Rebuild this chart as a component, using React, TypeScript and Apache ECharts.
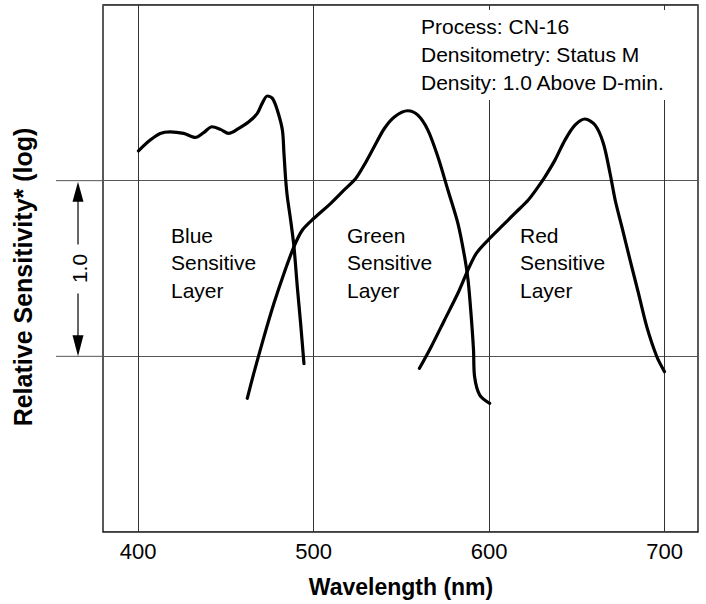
import React, { useEffect, useRef } from "react";
import * as echarts from "echarts";

const X_TICKS = [400, 500, 600, 700];
const Y_GRID = [1, 2];

const BLUE: [number, number][] = [
  [400.2, 2.17], [406.9, 2.231], [412.6, 2.269], [418.3, 2.278], [425.9, 2.269],
  [432.6, 2.246], [437.3, 2.273], [442.1, 2.307], [446.9, 2.292], [451.6, 2.269],
  [457.4, 2.298], [463.1, 2.335], [467.9, 2.383], [470.7, 2.44], [473.6, 2.482],
  [476.5, 2.469], [479.3, 2.402], [482.2, 2.288], [483.1, 2.155], [484.1, 2.004],
  [485.0, 1.909], [486.9, 1.776], [488.8, 1.624], [490.7, 1.396], [492.6, 1.187],
  [494.5, 0.959],
];

const GREEN: [number, number][] = [
  [462.2, 0.761], [465.9, 0.903], [471.7, 1.111], [477.4, 1.302], [483.1, 1.472],
  [488.8, 1.624], [493.6, 1.719], [500.2, 1.786], [509.8, 1.871], [517.4, 1.947],
  [524.1, 2.014], [528.8, 2.089], [534.5, 2.193], [540.3, 2.297], [546.0, 2.363],
  [553.6, 2.398], [559.4, 2.373], [565.1, 2.288], [570.8, 2.136], [576.5, 1.947],
  [582.2, 1.757], [586.0, 1.568], [588.0, 1.434], [589.8, 1.226], [591.1, 1.036],
  [591.7, 0.885], [594.6, 0.78], [600.3, 0.732],
];

const RED: [number, number][] = [
  [560.3, 0.932], [567.0, 1.055], [574.6, 1.207], [582.2, 1.359], [587.9, 1.491],
  [592.7, 1.586], [599.4, 1.662], [607.0, 1.738], [614.6, 1.814], [622.3, 1.89],
  [628.0, 1.966], [631.8, 2.022], [637.5, 2.117], [643.2, 2.231], [648.9, 2.316],
  [654.6, 2.351], [660.4, 2.316], [665.1, 2.212], [668.9, 2.041], [671.8, 1.89],
  [675.6, 1.738], [680.3, 1.548], [685.1, 1.358], [689.8, 1.169], [695.5, 0.999],
  [699.9, 0.913],
];

const LAYER_NAMES = ["Blue", "Green", "Red"];
const NOTE_LINES = ["Process: CN-16", "Densitometry: Status M", "Density: 1.0 Above D-min."];
const X_TITLE = "Wavelength (nm)";
const Y_TITLE = "Relative Sensitivity* (log)";
const SCALE_LABEL = "1.0";

const FONT = '"Liberation Sans", Arial, Helvetica, sans-serif';

export default function App() {
  const ref = useRef<HTMLDivElement>(null);
  useEffect(() => {
    if (!ref.current) return;
    const chart = echarts.init(ref.current, null, { renderer: "svg" });
    const curve = (name: string, data: [number, number][]) => ({
      name,
      type: "line",
      data,
      showSymbol: false,
      symbol: "none",
      smooth: 0.3,
      silent: true,
      lineStyle: { color: "#000", width: 3.2, cap: "round", join: "round" },
      z: 5,
    });
    chart.setOption({
      animation: false,
      grid: {
        left: 103,
        top: 5,
        right: 8,
        bottom: 72,
        show: true,
        borderColor: "#000",
        borderWidth: 1.3,
        backgroundColor: "transparent",
      },
      xAxis: {
        type: "value",
        min: 380,
        max: 719,
        interval: 20,
        axisLine: { show: false },
        axisTick: { show: false },
        splitLine: { show: false },
        axisLabel: {
          formatter: (v: number) => (X_TICKS.includes(v) ? String(v) : ""),
          fontSize: 22,
          color: "#000",
          fontFamily: FONT,
          margin: 8,
        },
      },
      yAxis: {
        type: "value",
        min: 0,
        max: 3,
        interval: 1,
        axisLine: { show: false },
        axisTick: { show: false },
        axisLabel: { show: false },
        splitLine: { show: true, lineStyle: { color: "#555", width: 1 } },
      },
      series: [
        {
          ...curve("Blue", BLUE),
          markLine: {
            silent: true,
            symbol: "none",
            label: { show: false },
            lineStyle: { color: "#333", width: 1, type: "solid" },
            data: X_TICKS.map((v) => ({ xAxis: v })),
            z: 1,
          },
        },
        curve("Green", GREEN),
        curve("Red", RED),
      ],
    });

    const yp = (v: number) => chart.convertToPixel({ yAxisIndex: 0 }, v) as number;
    const xp = (v: number) => chart.convertToPixel({ xAxisIndex: 0 }, v) as number;
    const yTop = yp(Y_GRID[1]);
    const yBot = yp(Y_GRID[0]);
    const left = xp(380);
    const ax = 78;
    const mid = (yTop + yBot) / 2;
    const labelStyle = (text: string) => ({
      text,
      font: `21px ${FONT}`,
      lineHeight: 27.5,
      fill: "#000",
      align: "left",
      verticalAlign: "middle",
    });
    const graphic: any[] = [
      ...Y_GRID.map((g) => ({
        type: "line",
        shape: { x1: 56, y1: yp(g), x2: left, y2: yp(g) },
        style: { stroke: "#555", lineWidth: 1 },
        z: 10,
      })),
      {
        type: "polygon",
        shape: { points: [[ax, yTop + 1], [ax - 5.5, yTop + 21], [ax + 5.5, yTop + 21]] },
        style: { fill: "#000" },
        z: 10,
      },
      {
        type: "line",
        shape: { x1: ax, y1: yTop + 20, x2: ax, y2: mid - 24 },
        style: { stroke: "#000", lineWidth: 1.2 },
        z: 10,
      },
      {
        type: "line",
        shape: { x1: ax, y1: mid + 25, x2: ax, y2: yBot - 20 },
        style: { stroke: "#000", lineWidth: 1.2 },
        z: 10,
      },
      {
        type: "polygon",
        shape: { points: [[ax, yBot], [ax - 5.5, yBot - 21], [ax + 5.5, yBot - 21]] },
        style: { fill: "#000" },
        z: 10,
      },
      {
        type: "text",
        x: ax + 1,
        y: mid,
        rotation: Math.PI / 2,
        style: {
          text: SCALE_LABEL,
          font: `21px ${FONT}`,
          fill: "#000",
          align: "center",
          verticalAlign: "middle",
        },
        z: 10,
      },
      {
        type: "text",
        x: 23,
        y: 277,
        rotation: Math.PI / 2,
        style: {
          text: Y_TITLE,
          font: `bold 25px ${FONT}`,
          fill: "#000",
          align: "center",
          verticalAlign: "middle",
        },
        z: 10,
      },
      {
        type: "text",
        x: 401,
        y: 587,
        style: {
          text: X_TITLE,
          font: `bold 23px ${FONT}`,
          fill: "#000",
          align: "center",
          verticalAlign: "middle",
        },
        z: 10,
      },
      {
        type: "rect",
        shape: { x: 415, y: 10, width: 281, height: 90 },
        style: { fill: "#fff" },
        z: 20,
      },
      {
        type: "text",
        x: 421,
        y: 54,
        style: {
          text: NOTE_LINES.join("\n"),
          font: `21px ${FONT}`,
          lineHeight: 28,
          fill: "#000",
          align: "left",
          verticalAlign: "middle",
        },
        z: 21,
      },
      { type: "text", x: 171, y: 262.5, style: labelStyle(`${LAYER_NAMES[0]}\nSensitive\nLayer`), z: 10 },
      { type: "text", x: 347, y: 262.5, style: labelStyle(`${LAYER_NAMES[1]}\nSensitive\nLayer`), z: 10 },
      { type: "text", x: 520, y: 262.5, style: labelStyle(`${LAYER_NAMES[2]}\nSensitive\nLayer`), z: 10 },
    ];
    chart.setOption({ graphic });
    return () => chart.dispose();
  }, []);
  return (
    <div
      ref={ref}
      style={{ position: "fixed", left: 0, top: 0, width: 706, height: 604, background: "#fff" }}
    />
  );
}
